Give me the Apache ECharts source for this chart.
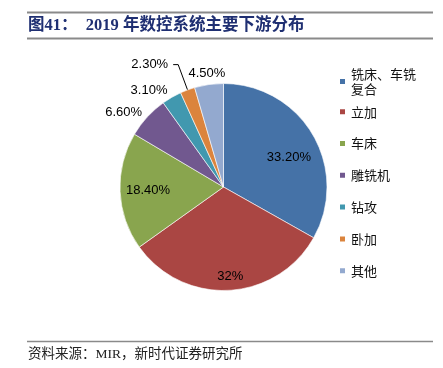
<!DOCTYPE html>
<html>
<head>
<meta charset="utf-8">
<script src="https://cdn.jsdelivr.net/npm/echarts@6/dist/echarts.min.js"></script>
<style>
html,body{margin:0;padding:0;background:#fff;}
#chart{width:443px;height:368px;}
</style>
</head>
<body>
<div id="chart"></div>
<script>
// ---- data ----
const categories = ['铣床、车铣复合', '立加', '车床', '雕铣机', '钻攻', '卧加', '其他'];
const shares = [33.2, 32, 18.4, 6.6, 3.1, 2.3, 4.5];
const shareLabels = ['33.20%', '32%', '18.40%', '6.60%', '3.10%', '2.30%', '4.50%'];
const colors = ['#4572A7', '#AA4643', '#89A54E', '#71588F', '#4198AF', '#DB843D', '#93A9CF'];
const titleText = '图41：  2019 年数控系统主要下游分布';
const sourceText = '资料来源：MIR，新时代证券研究所';

// label placement tuning (length, length2, distance, show leader line, top padding)
const labelTune = [
  [-44, 0, -8, false, 0],
  [-13.5, 0, -11, false, 0],
  [-30, 0, -20, false, 8],
  [7, 0, 0, false, 0],
  [8.5, 0, 0, false, 0],
  [27, 5, 5, true, 0],
  [11.6, 0, -18, false, 0]
];

const pieData = categories.map((name, i) => ({
  name: name,
  value: shares[i],
  itemStyle: { color: colors[i] },
  label: { distanceToLabelLine: labelTune[i][2], padding: [labelTune[i][4], 0, 0, 0] },
  labelLine: {
    show: labelTune[i][3],
    length: labelTune[i][0],
    length2: labelTune[i][1],
    lineStyle: { color: '#000', width: 1 }
  }
}));

const chart = echarts.init(document.getElementById('chart'), null, { renderer: 'canvas' });
const serifFont = '"Liberation Serif", "DejaVu Serif", "Noto Sans CJK SC", serif';
const cjkFont = '"Noto Sans CJK SC", sans-serif';

chart.setOption({
  backgroundColor: '#fff',
  animation: false,
  legend: [
    {
      data: [categories[0]],
      orient: 'vertical',
      left: 338,
      top: 59,
      padding: 0,
      itemWidth: 7,
      itemHeight: 7,
      icon: 'rect',
      formatter: function (n) { return '铣床、车铣\n复合'; },
      textStyle: { fontFamily: cjkFont, fontSize: 13, color: '#111', lineHeight: 15, padding: [15, 0, 0, 0] }
    },
    {
      data: categories.slice(1),
      orient: 'vertical',
      left: 338,
      top: 104.7,
      padding: 0,
      itemGap: 17.8,
      itemWidth: 7,
      itemHeight: 7,
      icon: 'rect',
      textStyle: { fontFamily: cjkFont, fontSize: 13, color: '#111', lineHeight: 14 }
    }
  ],
  series: [{
    type: 'pie',
    center: [223.5, 187],
    radius: 103.5,
    startAngle: 90,
    clockwise: true,
    avoidLabelOverlap: false,
    minShowLabelAngle: 0,
    itemStyle: { borderColor: '#fff', borderWidth: 0.6 },
    label: {
      show: true,
      position: 'outside',
      color: '#000',
      fontSize: 13,
      fontFamily: '"Liberation Sans", Arial, sans-serif',
      formatter: function (p) { return shareLabels[p.dataIndex]; }
    },
    emphasis: { disabled: true },
    data: pieData
  }],
  graphic: [
    { type: 'line', shape: { x1: 27, y1: 12.5, x2: 433, y2: 12.5 }, style: { stroke: '#8a8a8a', lineWidth: 2 } },
    { type: 'text', x: 28, y: 26, style: { text: titleText, font: 'bold 16.5px ' + serifFont, fill: '#1f2f72', verticalAlign: 'middle' } },
    { type: 'line', shape: { x1: 27, y1: 38.5, x2: 433, y2: 38.5 }, style: { stroke: '#8a8a8a', lineWidth: 2 } },
    { type: 'line', shape: { x1: 27, y1: 341.5, x2: 433, y2: 341.5 }, style: { stroke: '#8a8a8a', lineWidth: 1.5 } },
    { type: 'text', x: 28, y: 354, style: { text: sourceText, font: '13.5px ' + serifFont, fill: '#222', verticalAlign: 'middle' } }
  ]
});
</script>
</body>
</html>
